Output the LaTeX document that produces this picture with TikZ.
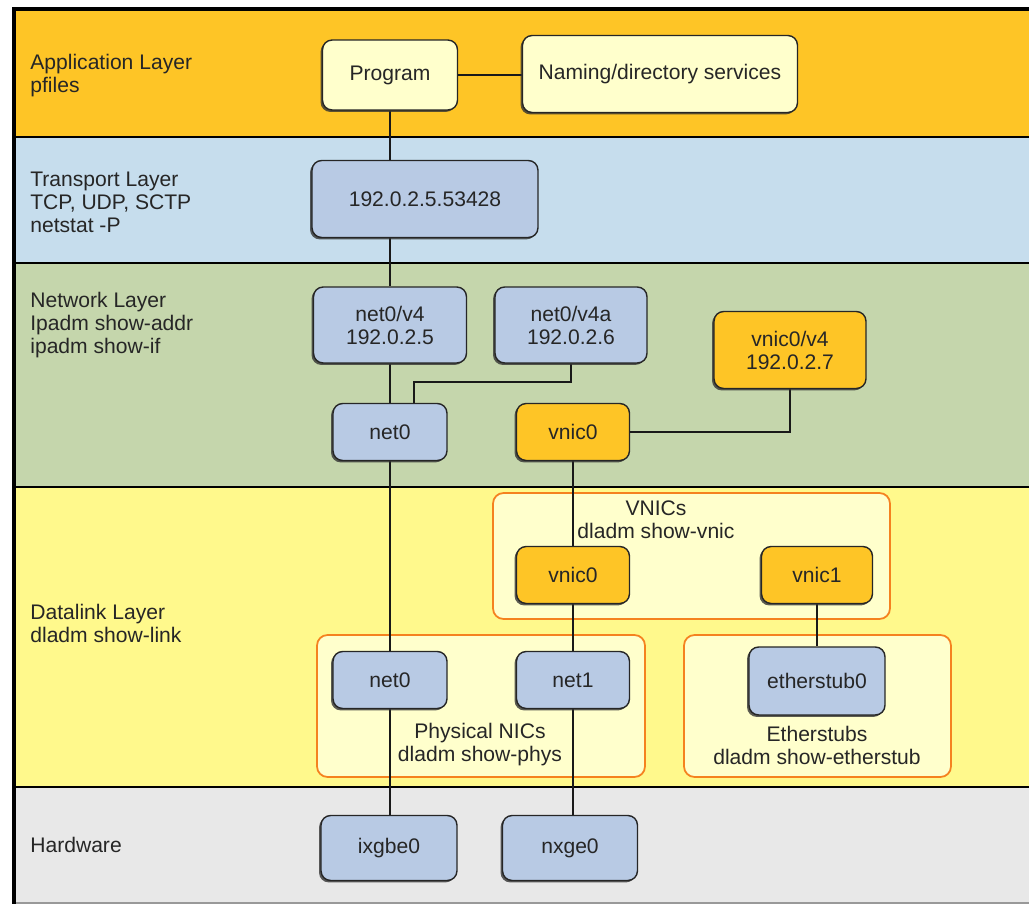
\documentclass[tikz,border=0pt]{standalone}
\usepackage{fontspec}
\setmainfont{Liberation Sans}
\usetikzlibrary{shadows}

\definecolor{appgold}{HTML}{FEC526}
\definecolor{tranblue}{HTML}{C6DDED}
\definecolor{netgreen}{HTML}{C5D6AC}
\definecolor{linkyellow}{HTML}{FFF98C}
\definecolor{hwgray}{HTML}{E8E8E8}
\definecolor{boxblue}{HTML}{B8CAE4}
\definecolor{cream}{HTML}{FFFFCC}
\definecolor{grouporange}{HTML}{F5821F}

\pgfdeclarelayer{bands}
\pgfdeclarelayer{wires}
\pgfsetlayers{bands,wires,main}

\tikzset{
  box/.style={draw=black!85, line width=0.8pt, rounded corners=5.5pt, align=center,
    text=black!85, inner sep=2pt,
    drop shadow={shadow xshift=-1.1pt, shadow yshift=-1.1pt, opacity=0.8, fill=black!80}},
  bluebox/.style={box, fill=boxblue},
  goldbox/.style={box, fill=appgold},
  creambox/.style={box, fill=cream},
  groupbox/.style={draw=grouporange, line width=1pt, rounded corners=6pt, fill=cream},
  layertext/.style={anchor=west, align=left, text=black!85, inner sep=0pt},
  grouptext/.style={align=center, text=black!85, inner sep=0pt},
  wire/.style={line width=1pt, black!90},
}

\begin{document}
\begin{tikzpicture}[x=0.02cm, y=-0.02cm, font=\fontsize{12}{13.1}\selectfont]
    \useasboundingbox (0,0) rectangle (1029,905);

    % Draw the layer bands and the group boxes
    \begin{pgfonlayer}{bands}
    \fill[white] (0,0) rectangle (1029,905);
    \fill[appgold] (14,9) rectangle (1029,137);
    \fill[tranblue] (14,137) rectangle (1029,263);
    \fill[netgreen] (14,263) rectangle (1029,487);
    \fill[linkyellow] (14,487) rectangle (1029,787);
    \fill[hwgray] (14,787) rectangle (1029,903);
    \foreach \y in {137,263,487,787}
        \draw[line width=1.1pt] (14,\y) -- (1029,\y);
    \draw[black!40, line width=0.6pt] (14,903) -- (1029,903);
    \draw[line width=2.4pt] (1029,9) -- (14,9) -- (14,904);
    \draw[groupbox] (493,493) rectangle (890,619);
    \draw[groupbox] (317,635) rectangle (645,777);
    \draw[groupbox] (684,635) rectangle (951,777);
    \end{pgfonlayer}

    % Label the layers
    \node[layertext] (applbl) at (30,75.5) {Application Layer\\pfiles};
    \node[layertext] (tranlbl) at (30,202) {Transport Layer\\TCP, UDP, SCTP\\netstat -P};
    \node[layertext] (netlbl) at (30,325.5) {Network Layer\\Ipadm show-addr\\ipadm show-if};
    \node[layertext] (linklbl) at (30,623.5) {Datalink Layer\\dladm show-link};
    \node[layertext] (hwlbl) at (30,845) {Hardware};

    % Label the groups
    \node[grouptext] (vnicslbl) at (656,520) {VNICs\\dladm show-vnic};
    \node[grouptext] (physlbl) at (480,745) {Physical NICs\\dladm show-phys};
    \node[grouptext] (stublbl) at (817,745) {Etherstubs\\dladm show-etherstub};

    % Application and transport
    \node[creambox, minimum width=2.7cm, minimum height=1.4cm] (prog) at (390,75) {Program};
    \node[creambox, minimum width=5.5cm, minimum height=1.54cm] (naming) at (660,74) {Naming/directory services};
    \node[bluebox, minimum width=4.52cm, minimum height=1.54cm] (sock) at (425,199) {192.0.2.5.53428};

    % Network layer
    \node[bluebox, minimum width=3.06cm, minimum height=1.52cm] (v4) at (390,325) {net0/v4\\192.0.2.5};
    \node[bluebox, minimum width=3.04cm, minimum height=1.52cm] (v4a) at (571,325) {net0/v4a\\192.0.2.6};
    \node[goldbox, minimum width=3.04cm, minimum height=1.54cm] (vv4) at (790,350) {vnic0/v4\\192.0.2.7};
    \node[bluebox, minimum width=2.28cm, minimum height=1.14cm] (nnet0) at (390,432) {net0};
    \node[goldbox, minimum width=2.26cm, minimum height=1.14cm] (nvnic0) at (573,432) {vnic0};

    % Datalink layer
    \node[goldbox, minimum width=2.26cm, minimum height=1.14cm] (dvnic0) at (573,575) {vnic0};
    \node[goldbox, minimum width=2.22cm, minimum height=1.14cm] (dvnic1) at (817,575) {vnic1};
    \node[bluebox, minimum width=2.28cm, minimum height=1.14cm] (dnet0) at (390,680) {net0};
    \node[bluebox, minimum width=2.26cm, minimum height=1.14cm] (dnet1) at (573,680) {net1};
    \node[bluebox, minimum width=2.72cm, minimum height=1.36cm] (estub) at (817,681) {etherstub0};

    % Hardware
    \node[bluebox, minimum width=2.72cm, minimum height=1.3cm] (ixgbe) at (389,848) {ixgbe0};
    \node[bluebox, minimum width=2.7cm, minimum height=1.3cm] (nxge) at (570,848) {nxge0};

    % Draw the links
    \begin{pgfonlayer}{wires}
    \draw[wire] (prog.east) -- (prog.east -| naming.west);
    \draw[wire] (prog.south) -- (prog.south |- sock.north);
    \draw[wire] (sock.south -| v4.north) -- (v4.north);
    \draw[wire] (v4.south) -- (nnet0.north);
    \draw[wire] (v4a.south) -- ++(0,18) -| ([xshift=0.48cm]nnet0.north);
    \draw[wire] (vv4.south) |- (nvnic0.east);
    \draw[wire] (nnet0.south) -- (dnet0.north);
    \draw[wire] (nvnic0.south) -- (dvnic0.north);
    \draw[wire] (dvnic0.south) -- (dnet1.north);
    \draw[wire] (dvnic1.south) -- (estub.north);
    \draw[wire] (dnet0.south) -- (dnet0.south |- ixgbe.north);
    \draw[wire] (dnet1.south) -- (dnet1.south |- nxge.north);
    \end{pgfonlayer}
\end{tikzpicture}
\end{document}
